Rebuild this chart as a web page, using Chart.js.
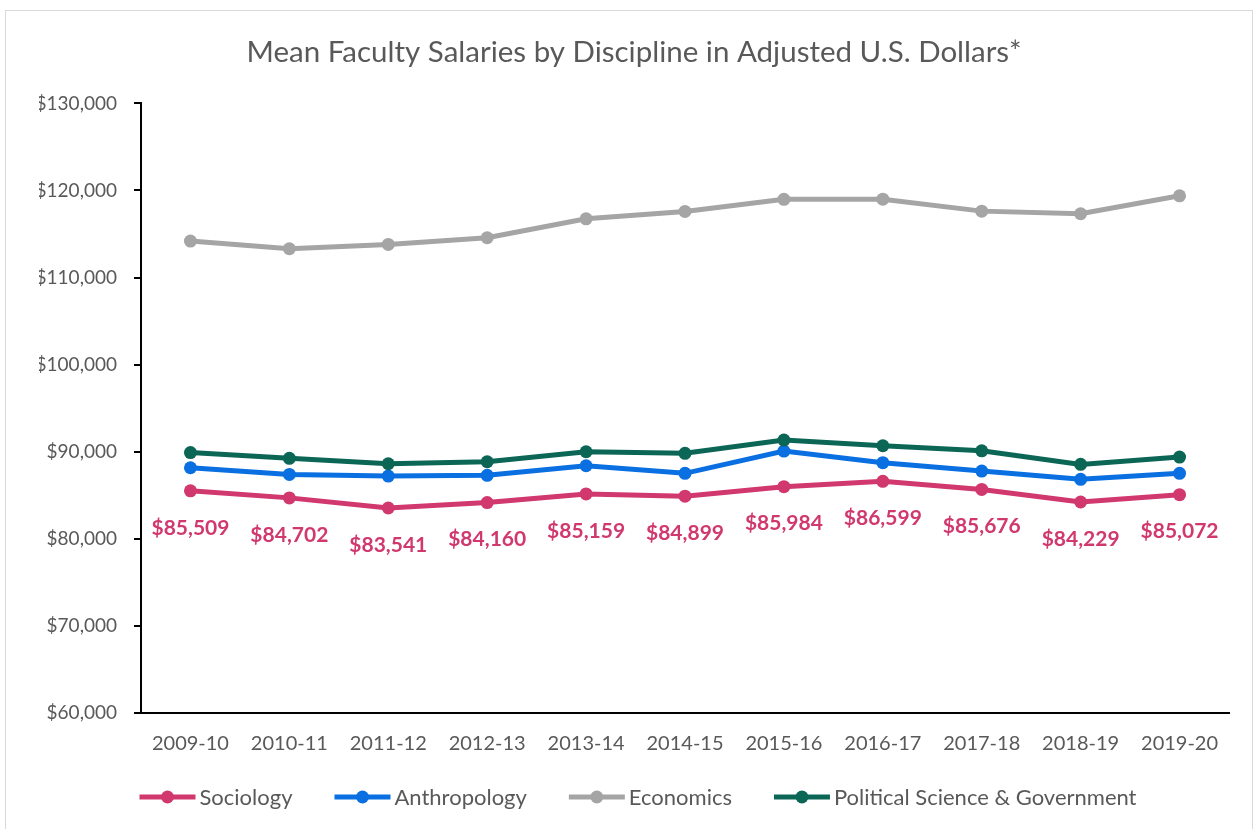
<!DOCTYPE html>
<html>
<head>
<meta charset="utf-8">
<script src="https://cdn.jsdelivr.net/npm/chart.js@4.4.1/dist/chart.umd.min.js"></script>
<style>
  html, body { margin: 0; padding: 0; background: #fff; overflow: hidden; }
  #frame { position: absolute; left: 5px; top: 10px; width: 1246px; height: 830px; border: 1px solid #d9d9d9; }
  #chart { display: block; }
</style>
</head>
<body>
<div id="frame"><canvas id="chart" width="1246" height="818"></canvas></div>
<script>
/* data */
var years = ['2009-10', '2010-11', '2011-12', '2012-13', '2013-14', '2014-15',
             '2015-16', '2016-17', '2017-18', '2018-19', '2019-20'];
var sociology = [85509, 84702, 83541, 84160, 85159, 84899, 85984, 86599, 85676, 84229, 85072];
var anthropology = [88160, 87400, 87210, 87290, 88390, 87520, 90080, 88740, 87780, 86830, 87520];
var economics = [114190, 113310, 113810, 114570, 116750, 117600, 118980, 119000, 117630, 117330, 119390];
var polisci = [89900, 89240, 88620, 88850, 90000, 89820, 91340, 90690, 90110, 88550, 89390];

var seriesNames = ['Sociology', 'Anthropology', 'Economics', 'Political Science & Government'];
var seriesColors = ['#D0386E', '#0A6FE0', '#A5A5A5', '#0C6656'];
var seriesData = [sociology, anthropology, economics, polisci];

var fontName = 'Lato, "Noto Sans", sans-serif';
var textGray = '#595959';

function money(v) {
    return '$' + Math.round(v).toLocaleString('en-US');
}

var datasets = [];
for (var i = 0; i < seriesNames.length; i++) {
    datasets.push({
        label: seriesNames[i],
        data: seriesData[i],
        borderColor: seriesColors[i],
        backgroundColor: seriesColors[i],
        borderWidth: 5,
        pointRadius: 6.5,
        pointHoverRadius: 6.5,
        pointBorderWidth: 0,
        tension: 0,
        order: seriesNames.length - i   // later series on top, like Excel
    });
}

/* value labels under the sociology line */
var valueLabels = {
    id: 'valueLabels',
    afterDatasetsDraw: function (chart) {
        var ctx = chart.ctx;
        var meta = chart.getDatasetMeta(0);
        ctx.save();
        ctx.font = 'bold 21px ' + fontName;
        ctx.fillStyle = seriesColors[0];
        ctx.textAlign = 'center';
        ctx.textBaseline = 'middle';
        meta.data.forEach(function (pt, idx) {
            ctx.fillText(money(sociology[idx]), pt.x, pt.y + 37);
        });
        ctx.restore();
    }
};

/* legend: line with marker, then name */
var lineLegend = {
    id: 'lineLegend',
    afterDraw: function (chart) {
        var ctx = chart.ctx;
        var markW = 56, gapText = 4, gapItem = 42;
        ctx.save();
        ctx.font = '22px ' + fontName;
        var widths = seriesNames.map(function (n) { return ctx.measureText(n).width; });
        var total = 0;
        widths.forEach(function (w, idx) {
            total += markW + gapText + w + (idx ? gapItem : 0);
        });
        var x = chart.width / 2 - total / 2 + 9;
        var y = chart.chartArea.bottom + 84;
        ctx.textBaseline = 'middle';
        ctx.textAlign = 'left';
        for (var k = 0; k < seriesNames.length; k++) {
            ctx.strokeStyle = seriesColors[k];
            ctx.lineWidth = 5;
            ctx.beginPath();
            ctx.moveTo(x, y);
            ctx.lineTo(x + markW, y);
            ctx.stroke();
            ctx.fillStyle = seriesColors[k];
            ctx.beginPath();
            ctx.arc(x + markW / 2, y, 6.5, 0, Math.PI * 2);
            ctx.fill();
            ctx.fillStyle = textGray;
            ctx.fillText(seriesNames[k], x + markW + gapText, y + 1);
            x += markW + gapText + widths[k] + gapItem;
        }
        ctx.restore();
    }
};

var chart = new Chart(document.getElementById('chart'), {
    type: 'line',
    data: { labels: years, datasets: datasets },
    options: {
        responsive: false,
        animation: false,
        events: [],
        layout: { padding: { left: 33, right: 23, top: 0, bottom: 56 } },
        plugins: {
            legend: { display: false },
            tooltip: { enabled: false },
            title: {
                display: true,
                text: 'Mean Faculty Salaries by Discipline in Adjusted U.S. Dollars*',
                color: textGray,
                font: { family: fontName, size: 29.5, weight: 'normal', lineHeight: 1.2 },
                padding: { top: 24, bottom: 33 }
            }
        },
        scales: {
            x: {
                offset: true,
                grid: { display: false, drawTicks: false },
                border: { display: true, color: '#000', width: 2 },
                ticks: {
                    color: textGray,
                    padding: 19,
                    maxRotation: 0,
                    autoSkip: false,
                    font: { family: fontName, size: 20 }
                },
                afterFit: function (scale) { scale.height = 60; }
            },
            y: {
                min: 60000,
                max: 130000,
                grid: { drawOnChartArea: false, drawTicks: true, tickLength: 7, color: '#000', lineWidth: 2 },
                border: { display: true, color: '#000', width: 2 },
                ticks: {
                    stepSize: 10000,
                    color: textGray,
                    padding: 17,
                    font: { family: fontName, size: 19 },
                    callback: function (v) { return money(v); }
                },
                afterFit: function (scale) { scale.width = 102; }
            }
        }
    },
    plugins: [valueLabels, lineLegend]
});
</script>
</body>
</html>
